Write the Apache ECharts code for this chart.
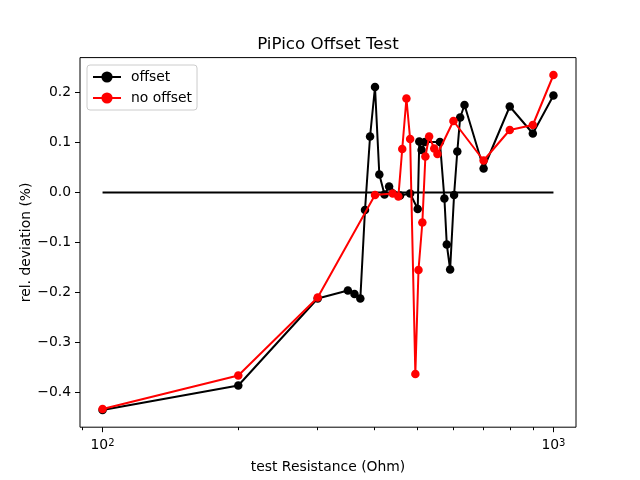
<!DOCTYPE html>
<html>
<head>
<meta charset="utf-8">
<script src="https://cdn.jsdelivr.net/npm/echarts@6/dist/echarts.min.js"></script>
<style>
  html, body { margin: 0; padding: 0; background: #fff; }
  #chart { width: 640px; height: 480px; }
</style>
</head>
<body>
<div id="chart"></div>
<script>
// values
var offsetR = [100, 200, 300, 350, 362, 373, 382, 392, 402, 411, 422, 432, 457, 481, 500, 504, 510, 519, 560, 573, 580, 590, 602, 612, 621, 635, 700, 800, 900, 1000];
var offsetDev = [-0.435, -0.386, -0.212, -0.196, -0.203, -0.212, -0.035, 0.112, 0.211, 0.036, -0.004, 0.012, -0.006, -0.002, -0.033, 0.102, 0.085, 0.101, 0.101, -0.012, -0.104, -0.154, -0.005, 0.082, 0.150, 0.175, 0.048, 0.172, 0.118, 0.194];

var noOffsetR = [100, 200, 300, 402, 440, 453, 462, 472, 481, 494, 502, 512, 520, 530, 544, 553, 600, 700, 800, 900, 1000];
var noOffsetDev = [-0.433, -0.366, -0.210, -0.005, -0.002, -0.008, 0.087, 0.188, 0.107, -0.363, -0.155, -0.060, 0.072, 0.112, 0.088, 0.077, 0.143, 0.064, 0.125, 0.135, 0.235];

var zeroLineR = [100, 1000];
var zeroLineDev = [0, 0];

var xMajorTicks = [100, 1000];
var xMinorTicks = [90, 200, 300, 400, 500, 600, 700, 800, 900];
var yTicks = [-0.4, -0.3, -0.2, -0.1, 0, 0.1, 0.2];

function pairs(xs, ys) {
    var out = [];
    for (var i = 0; i < xs.length; i++) {
        out.push([xs[i], ys[i]]);
    }
    return out;
}

var font = 'DejaVu Sans';
var chart = echarts.init(document.getElementById('chart'));

var option = {
    animation: false,
    backgroundColor: '#fff',
    title: {
        text: 'PiPico Offset Test',
        left: 328,
        top: 35,
        padding: 0,
        textAlign: 'center',
        textStyle: { fontFamily: font, fontSize: 16.7, fontWeight: 'normal', color: '#000', lineHeight: 20 }
    },
    legend: {
        data: ['offset', 'no offset'],
        orient: 'vertical',
        left: 87,
        top: 65,
        padding: [5, 5, 5, 5],
        itemWidth: 28,
        itemHeight: 14,
        itemGap: 7,
        borderColor: '#cccccc',
        borderWidth: 1,
        borderRadius: 3,
        backgroundColor: 'rgba(255,255,255,0.8)',
        textStyle: { fontFamily: font, fontSize: 13.9, color: '#000', padding: [0, 0, 0, 5] }
    },
    grid: {
        left: 80,
        right: 64,
        top: 57.6,
        bottom: 52.8,
        show: true,
        borderColor: '#000',
        borderWidth: 1,
        containLabel: false
    },
    xAxis: [{
        type: 'log',
        logBase: 10,
        min: 89.125,
        max: 1122.02,
        name: 'test Resistance (Ohm)',
        nameLocation: 'middle',
        nameGap: 33,
        nameMoveOverlap: false,
        nameTextStyle: { fontFamily: font, fontSize: 13.9, color: '#000' },
        axisLine: { show: false, onZero: false },
        splitLine: { show: false },
        axisTick: { show: true, length: 5, customValues: xMajorTicks, lineStyle: { color: '#000' } },
        axisLabel: {
            customValues: xMajorTicks,
            margin: 11,
            fontFamily: font,
            fontSize: 13.9,
            color: '#000',
            formatter: function (v) {
                return '10{sup|' + Math.round(Math.log10(v)) + '}';
            },
            rich: {
                sup: { fontFamily: font, fontSize: 10, color: '#000', verticalAlign: 'top', lineHeight: 10 }
            }
        }
    }, {
        type: 'log',
        logBase: 10,
        min: 89.125,
        max: 1122.02,
        position: 'bottom',
        axisLine: { show: false, onZero: false },
        splitLine: { show: false },
        axisLabel: { show: false },
        axisTick: { show: true, length: 3, customValues: xMinorTicks, lineStyle: { color: '#000' } }
    }],
    yAxis: {
        type: 'value',
        min: -0.4694,
        max: 0.2698,
        name: 'rel. deviation (%)',
        nameLocation: 'middle',
        nameGap: 47,
        nameMoveOverlap: false,
        nameTextStyle: { fontFamily: font, fontSize: 13.9, color: '#000' },
        axisLine: { show: false },
        splitLine: { show: false },
        axisTick: { show: true, length: 5, customValues: yTicks, lineStyle: { color: '#000' } },
        axisLabel: {
            customValues: yTicks,
            margin: 9,
            fontFamily: font,
            fontSize: 13.9,
            color: '#000',
            formatter: function (v) {
                return v.toFixed(1).replace('-', '\u2212');
            }
        }
    },
    series: [{
        name: 'zero',
        type: 'line',
        data: pairs(zeroLineR, zeroLineDev),
        symbol: 'none',
        lineStyle: { color: '#000', width: 2 },
        silent: true,
        z: 1
    }, {
        name: 'offset',
        type: 'line',
        data: pairs(offsetR, offsetDev),
        symbol: 'circle',
        symbolSize: 8.5,
        color: '#000',
        itemStyle: { color: '#000' },
        lineStyle: { color: '#000', width: 2 },
        z: 2
    }, {
        name: 'no offset',
        type: 'line',
        data: pairs(noOffsetR, noOffsetDev),
        symbol: 'circle',
        symbolSize: 8.5,
        color: '#ff0000',
        itemStyle: { color: '#ff0000' },
        lineStyle: { color: '#ff0000', width: 2 },
        z: 3
    }]
};

chart.setOption(option);
</script>
</body>
</html>
